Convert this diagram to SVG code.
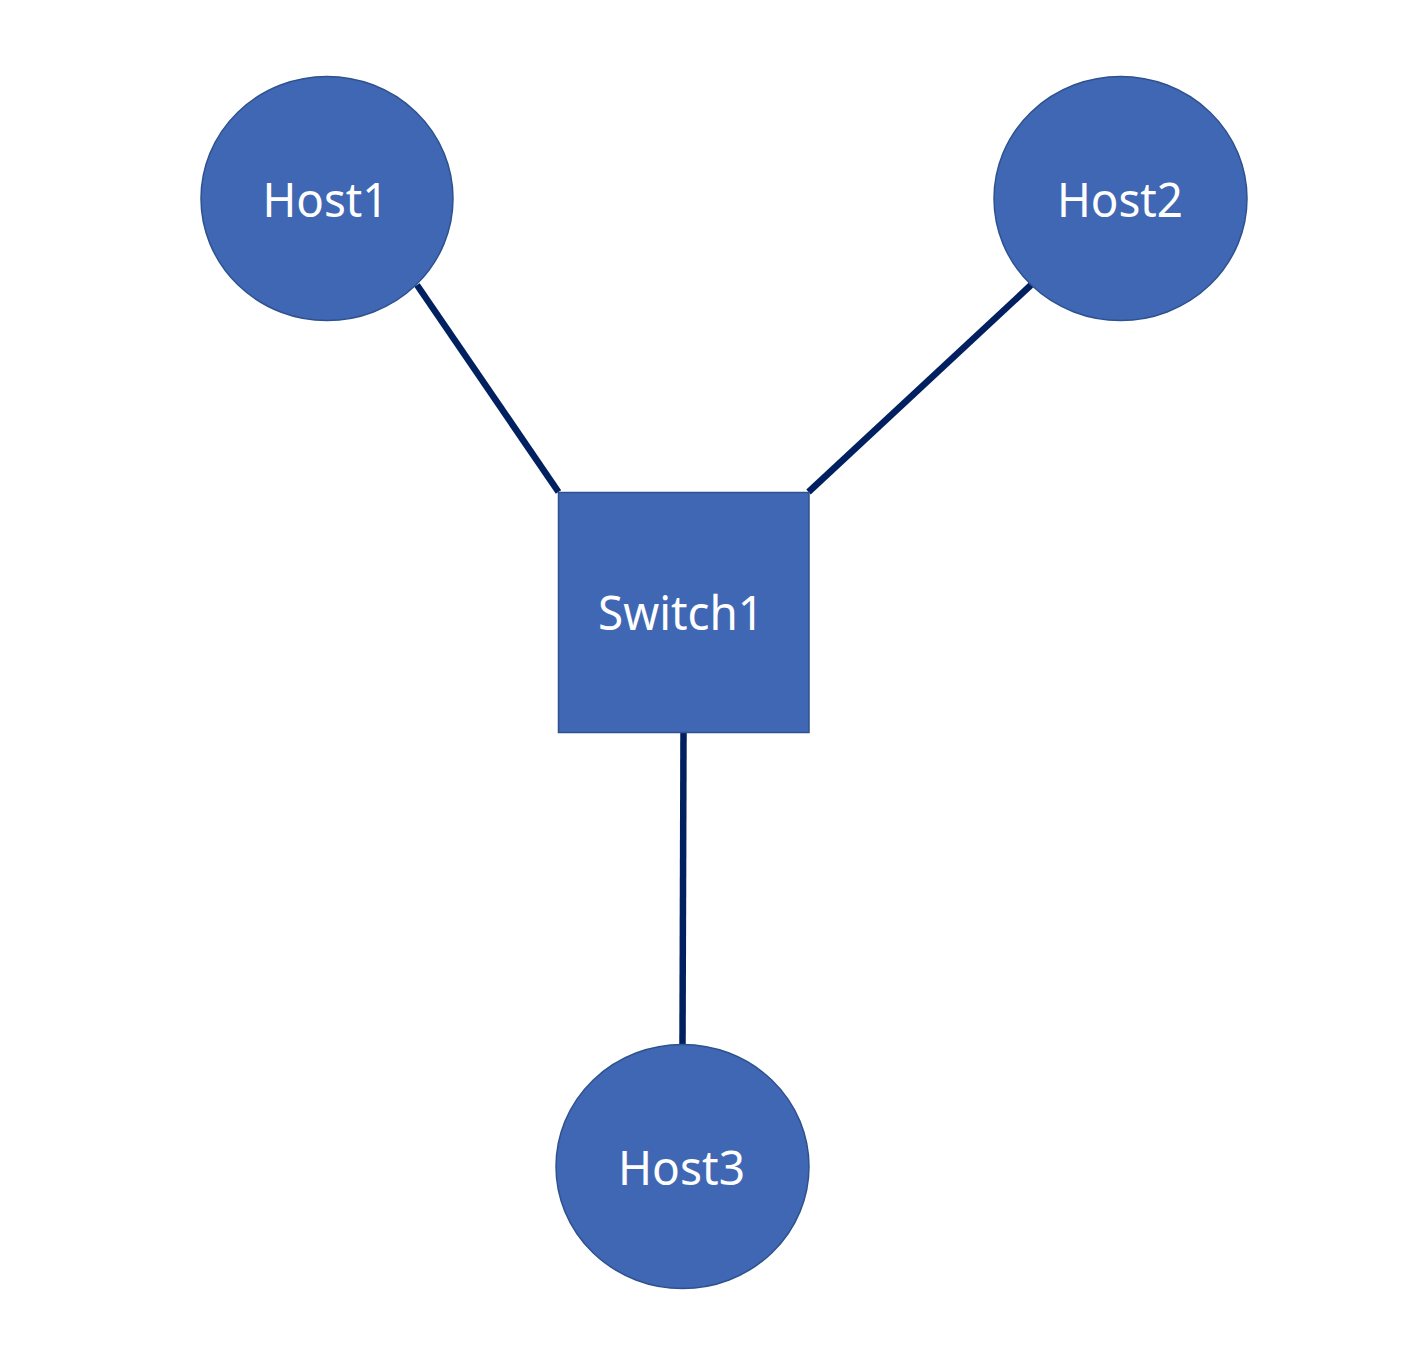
<svg xmlns="http://www.w3.org/2000/svg" width="1428" height="1370" viewBox="0 0 1428 1370">
<style>
.node{fill:#3F67B3;stroke:#2F528F;stroke-width:1.5}
.lbl{font-family:"Noto Sans","Liberation Sans",sans-serif;font-size:48px;fill:#ffffff;text-anchor:middle}
.edge{stroke:#002060;stroke-width:6.5;fill:none}
</style>
<rect width="1428" height="1370" fill="#ffffff"/>
<g id="connectors">
<line class="edge" x1="417" y1="285" x2="558.5" y2="492"/>
<line class="edge" x1="1031" y1="285" x2="808.5" y2="492"/>
<line class="edge" x1="683.5" y1="733" x2="682.5" y2="1045"/>
</g>
<g id="host1">
<ellipse class="node" cx="327" cy="198.5" rx="126" ry="122"/>
<text class="lbl" x="325.5" y="217" textLength="126" lengthAdjust="spacingAndGlyphs">Host1</text>
</g>
<g id="host2">
<ellipse class="node" cx="1120.5" cy="198.5" rx="126.5" ry="122"/>
<text class="lbl" x="1120" y="217" textLength="126" lengthAdjust="spacingAndGlyphs">Host2</text>
</g>
<g id="switch1">
<rect class="node" x="558.5" y="492.5" width="250.5" height="240"/>
<text class="lbl" x="681" y="630" textLength="166" lengthAdjust="spacingAndGlyphs">Switch1</text>
</g>
<g id="host3">
<ellipse class="node" cx="682.5" cy="1166.5" rx="126.5" ry="122"/>
<text class="lbl" x="681.5" y="1185" textLength="127" lengthAdjust="spacingAndGlyphs">Host3</text>
</g>
</svg>
